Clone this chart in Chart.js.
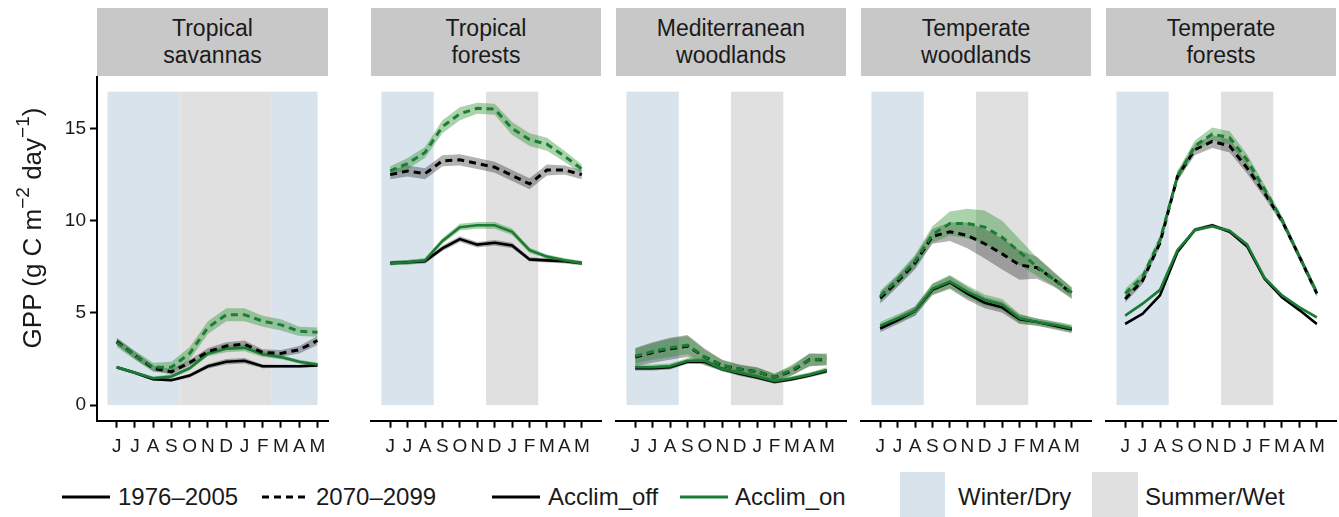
<!DOCTYPE html>
<html>
<head>
<meta charset="utf-8">
<script src="https://cdn.jsdelivr.net/npm/chart.js@4.4.1/dist/chart.umd.min.js"></script>
<style>
  body { margin: 0; background: #fff; width: 1339px; height: 517px; overflow: hidden; position: relative;
         font-family: "Liberation Sans", Arial, sans-serif; color: #1a1a1a; }
  .strip { position: absolute; top: 8px; height: 68px; background: #c8c8c8; display: flex; align-items: center;
           justify-content: center; text-align: center; font-size: 23px; line-height: 27px; }
  .box { position: absolute; top: 76px; height: 384px; }
  .leg { position: absolute; top: 480px; height: 34px; font-size: 24px; line-height: 34px; white-space: nowrap; }
  .key { position: absolute; }
  #ytitle { position: absolute; left: -118px; top: 213px; width: 300px; height: 30px; line-height: 30px;
            text-align: center; font-size: 26px; white-space: nowrap; transform: rotate(-90deg); }
  #ytitle sup { font-size: 19px; line-height: 0; position: relative; top: -2px; }
</style>
</head>
<body>
<div id="strips"></div>
<div id="boxes"></div>
<div id="ytitle">GPP (g C m<sup>−2</sup> day<sup>−1</sup>)</div>

<div class="key" style="left:62px;top:486px"><svg width="48" height="22"><line x1="0" y1="11" x2="48" y2="11" stroke="#000" stroke-width="3"/></svg></div>
<div class="leg" style="left:118px">1976–2005</div>
<div class="key" style="left:262px;top:486px"><svg width="48" height="22"><line x1="0" y1="11" x2="48" y2="11" stroke="#000" stroke-width="3" stroke-dasharray="7 5"/></svg></div>
<div class="leg" style="left:316px">2070–2099</div>
<div class="key" style="left:492px;top:486px"><svg width="48" height="22"><line x1="0" y1="11" x2="48" y2="11" stroke="#000" stroke-width="3"/></svg></div>
<div class="leg" style="left:548px">Acclim_off</div>
<div class="key" style="left:680px;top:486px"><svg width="48" height="22"><line x1="0" y1="11" x2="48" y2="11" stroke="#1b7c36" stroke-width="3"/></svg></div>
<div class="leg" style="left:735px">Acclim_on</div>
<div class="key" style="left:900px;top:472px;width:45px;height:45px;background:#d9e3ec"></div>
<div class="leg" style="left:958px">Winter/Dry</div>
<div class="key" style="left:1092px;top:472px;width:46px;height:45px;background:#e0e0e0"></div>
<div class="leg" style="left:1145px">Summer/Wet</div>

<script>
const months = ["J", "J", "A", "S", "O", "N", "D", "J", "F", "M", "A", "M"];
const panelNames = [["Tropical", "savannas"], ["Tropical", "forests"], ["Mediterranean", "woodlands"],
                    ["Temperate", "woodlands"], ["Temperate", "forests"]];
const yTicks = [0, 5, 10, 15];

// season bands, in month index units
const savWinter = [[-0.5, 3.5], [8.5, 11]];
const savSummer = [[3.5, 8.5]];
const otherWinter = [[-0.5, 2.5]];
const otherSummer = [[5.5, 8.5]];

// Tropical savannas
const savOffPast = [2.05, 1.75, 1.4, 1.35, 1.6, 2.1, 2.35, 2.4, 2.1, 2.1, 2.1, 2.15];
const savOnPast  = [2.05, 1.75, 1.45, 1.55, 2.0, 2.8, 3.05, 3.1, 2.75, 2.6, 2.35, 2.2];
const savOffFut  = [3.45, 2.7, 2.0, 1.8, 2.3, 2.9, 3.2, 3.3, 2.85, 2.8, 3.0, 3.5];
const savOnFut   = [3.4, 2.7, 2.05, 2.05, 2.8, 4.2, 4.9, 4.9, 4.55, 4.35, 4.0, 3.95];
const savOffPastSd = [0.08, 0.08, 0.08, 0.08, 0.1, 0.12, 0.15, 0.15, 0.1, 0.08, 0.08, 0.08];
const savOnPastSd  = [0.1, 0.1, 0.1, 0.1, 0.12, 0.15, 0.18, 0.18, 0.15, 0.12, 0.1, 0.1];
const savOffFutSd  = [0.2, 0.2, 0.15, 0.15, 0.15, 0.2, 0.2, 0.2, 0.18, 0.18, 0.2, 0.25];
const savOnFutSd   = [0.25, 0.25, 0.25, 0.3, 0.35, 0.35, 0.35, 0.35, 0.3, 0.3, 0.25, 0.25];

// Tropical forests
const tfOffPast = [7.7, 7.75, 7.8, 8.5, 9.0, 8.7, 8.8, 8.65, 7.9, 7.85, 7.8, 7.7];
const tfOnPast  = [7.7, 7.75, 7.85, 8.9, 9.65, 9.75, 9.75, 9.4, 8.4, 8.05, 7.85, 7.7];
const tfOffFut  = [12.5, 12.7, 12.55, 13.25, 13.3, 13.1, 12.9, 12.45, 12.0, 12.75, 12.75, 12.5];
const tfOnFut   = [12.7, 13.1, 13.7, 15.1, 15.8, 16.1, 16.05, 15.0, 14.4, 14.15, 13.5, 12.8];
const tfOffPastSd = [0.12, 0.12, 0.12, 0.15, 0.15, 0.15, 0.15, 0.15, 0.12, 0.12, 0.12, 0.12];
const tfOnPastSd  = [0.12, 0.12, 0.12, 0.15, 0.18, 0.18, 0.18, 0.18, 0.15, 0.12, 0.12, 0.12];
const tfOffFutSd  = [0.25, 0.3, 0.3, 0.3, 0.3, 0.3, 0.3, 0.3, 0.3, 0.3, 0.25, 0.25];
const tfOnFutSd   = [0.25, 0.3, 0.3, 0.35, 0.35, 0.3, 0.3, 0.35, 0.35, 0.35, 0.3, 0.25];

// Mediterranean woodlands
const medOffPast = [2.0, 2.0, 2.05, 2.35, 2.35, 1.95, 1.7, 1.5, 1.25, 1.4, 1.6, 1.85];
const medOnPast  = [2.05, 2.05, 2.1, 2.4, 2.4, 1.95, 1.75, 1.55, 1.3, 1.45, 1.65, 1.9];
const medOffFut  = [2.6, 2.85, 3.05, 3.2, 2.6, 2.15, 1.95, 1.8, 1.5, 1.85, 2.45, 2.45];
const medOnFut   = [2.65, 2.9, 3.1, 3.25, 2.6, 2.15, 1.95, 1.8, 1.5, 1.9, 2.45, 2.5];
const medOffPastSd = [0.12, 0.12, 0.12, 0.12, 0.12, 0.12, 0.12, 0.12, 0.1, 0.1, 0.1, 0.12];
const medOnPastSd  = [0.15, 0.15, 0.15, 0.15, 0.15, 0.12, 0.12, 0.12, 0.12, 0.12, 0.12, 0.15];
const medOffFutSd  = [0.5, 0.55, 0.6, 0.6, 0.45, 0.3, 0.25, 0.25, 0.2, 0.25, 0.35, 0.3];
const medOnFutSd   = [0.4, 0.45, 0.5, 0.5, 0.4, 0.28, 0.22, 0.22, 0.2, 0.28, 0.35, 0.3];

// Temperate woodlands
const twOffPast = [4.15, 4.6, 5.1, 6.25, 6.65, 6.05, 5.55, 5.3, 4.65, 4.5, 4.3, 4.1];
const twOnPast  = [4.3, 4.7, 5.1, 6.3, 6.7, 6.15, 5.7, 5.45, 4.7, 4.5, 4.35, 4.15];
const twOffFut  = [5.8, 6.7, 7.7, 9.15, 9.4, 9.2, 8.75, 8.2, 7.6, 7.45, 6.8, 6.05];
const twOnFut   = [5.9, 6.8, 7.8, 9.25, 9.85, 9.85, 9.65, 9.1, 8.3, 7.5, 6.8, 6.1];
const twOffPastSd = [0.2, 0.22, 0.25, 0.3, 0.35, 0.35, 0.3, 0.3, 0.25, 0.2, 0.2, 0.2];
const twOnPastSd  = [0.2, 0.22, 0.25, 0.3, 0.35, 0.35, 0.3, 0.3, 0.25, 0.2, 0.2, 0.2];
const twOffFutSd  = [0.3, 0.3, 0.35, 0.4, 0.5, 0.7, 0.8, 0.85, 0.8, 0.6, 0.4, 0.3];
const twOnFutSd   = [0.3, 0.3, 0.35, 0.45, 0.65, 0.8, 0.9, 0.9, 0.7, 0.5, 0.35, 0.3];

// Temperate forests
const tmfOffPast = [4.4, 4.95, 5.95, 8.3, 9.5, 9.75, 9.4, 8.6, 6.85, 5.85, 5.15, 4.4];
const tmfOnPast  = [4.85, 5.5, 6.25, 8.4, 9.5, 9.7, 9.45, 8.7, 6.9, 5.95, 5.3, 4.75];
const tmfOffFut  = [5.75, 6.75, 8.8, 12.4, 13.85, 14.3, 14.05, 12.85, 11.5, 10.0, 8.05, 6.05];
const tmfOnFut   = [6.05, 6.95, 8.95, 12.4, 14.05, 14.7, 14.5, 13.3, 11.7, 10.05, 8.05, 6.1];
const tmfOffPastSd = [0.08, 0.08, 0.1, 0.1, 0.1, 0.1, 0.1, 0.1, 0.1, 0.08, 0.08, 0.08];
const tmfOnPastSd  = [0.08, 0.08, 0.1, 0.1, 0.1, 0.1, 0.1, 0.1, 0.1, 0.08, 0.08, 0.08];
const tmfOffFutSd  = [0.2, 0.2, 0.2, 0.25, 0.3, 0.35, 0.35, 0.3, 0.25, 0.2, 0.2, 0.2];
const tmfOnFutSd   = [0.25, 0.25, 0.25, 0.3, 0.3, 0.35, 0.35, 0.3, 0.25, 0.2, 0.2, 0.2];

const GREEN = "#1b7c36";
const GREEN_RIB = "rgba(34,139,34,0.38)";
const GRAY_RIB = "rgba(0,0,0,0.3)";
const WINTER = "#d9e3ec";
const SUMMER = "#e0e0e0";
const TEXT = "#1a1a1a";
const FONT = "'Liberation Sans', Arial, sans-serif";

const panels = [
  { left: 97,   width: 231, xmin: -1.075, xmax: 11.575, winter: savWinter, summer: savSummer,
    series: [savOffPast, savOnPast, savOffFut, savOnFut], sd: [savOffPastSd, savOnPastSd, savOffFutSd, savOnFutSd] },
  { left: 371,  width: 230, xmin: -1.1, xmax: 12.1, winter: otherWinter, summer: otherSummer,
    series: [tfOffPast, tfOnPast, tfOffFut, tfOnFut], sd: [tfOffPastSd, tfOnPastSd, tfOffFutSd, tfOnFutSd] },
  { left: 616,  width: 230, xmin: -1.1, xmax: 12.1, winter: otherWinter, summer: otherSummer,
    series: [medOffPast, medOnPast, medOffFut, medOnFut], sd: [medOffPastSd, medOnPastSd, medOffFutSd, medOnFutSd] },
  { left: 861,  width: 230, xmin: -1.1, xmax: 12.1, winter: otherWinter, summer: otherSummer,
    series: [twOffPast, twOnPast, twOffFut, twOnFut], sd: [twOffPastSd, twOnPastSd, twOffFutSd, twOnFutSd] },
  { left: 1106, width: 230, xmin: -1.1, xmax: 12.1, winter: otherWinter, summer: otherSummer,
    series: [tmfOffPast, tmfOnPast, tmfOffFut, tmfOnFut], sd: [tmfOffPastSd, tmfOnPastSd, tmfOffFutSd, tmfOnFutSd] }
];

const shadePlugin = {
  id: "shade",
  beforeDraw(chart, args, opts) {
    const { ctx, scales: { x, y } } = chart;
    const top = y.getPixelForValue(17), bottom = y.getPixelForValue(0);
    ctx.save();
    [[opts.winter, WINTER], [opts.summer, SUMMER]].forEach(([bands, col]) => {
      ctx.fillStyle = col;
      bands.forEach(b => {
        const x0 = x.getPixelForValue(b[0]), x1 = x.getPixelForValue(b[1]);
        ctx.fillRect(x0, top, x1 - x0, bottom - top);
      });
    });
    ctx.restore();
  }
};

function pts(arr, sd, sign = 0) {
  return arr.map((v, i) => ({ x: i, y: sd ? v + sign * sd[i] : v }));
}
function line(arr, color, dashed) {
  return { data: pts(arr), borderColor: color, borderWidth: dashed ? 3 : 2.6, borderDash: dashed ? [7, 5] : [],
           pointRadius: 0, fill: false, tension: 0 };
}
function ribbon(arr, sd, color) {
  return [
    { data: pts(arr, sd, 1), borderWidth: 0, borderColor: "transparent", pointRadius: 0, fill: "+1", backgroundColor: color },
    { data: pts(arr, sd, -1), borderWidth: 0, borderColor: "transparent", pointRadius: 0, fill: false }
  ];
}
function noPad(s) {
  s.paddingTop = 0; s.paddingBottom = 0; s.paddingLeft = 0; s.paddingRight = 0;
}

panels.forEach((p, k) => {
  const strip = document.createElement("div");
  strip.className = "strip";
  strip.style.left = p.left + "px";
  strip.style.width = p.width + "px";
  strip.innerHTML = panelNames[k].join("<br>");
  document.getElementById("strips").appendChild(strip);

  const first = k === 0;
  const boxLeft = first ? 0 : p.left - 2;
  const boxWidth = first ? p.left + p.width + 2 : p.width + 4;
  const box = document.createElement("div");
  box.className = "box";
  box.style.left = boxLeft + "px";
  box.style.width = boxWidth + "px";
  const cv = document.createElement("canvas");
  cv.width = boxWidth; cv.height = 384;
  box.appendChild(cv);
  document.getElementById("boxes").appendChild(box);

  const [offPast, onPast, offFut, onFut] = p.series;
  const [offPastSd, onPastSd, offFutSd, onFutSd] = p.sd;
  const datasets = [
    line(onFut, GREEN, true), line(offFut, "#000", true),
    line(onPast, GREEN, false), line(offPast, "#000", false),
    ...ribbon(onFut, onFutSd, GREEN_RIB), ...ribbon(onPast, onPastSd, GREEN_RIB),
    ...ribbon(offFut, offFutSd, GRAY_RIB), ...ribbon(offPast, offPastSd, GRAY_RIB)
  ];

  new Chart(cv, {
    type: "line",
    data: { datasets },
    plugins: [shadePlugin],
    options: {
      responsive: false, animation: false, devicePixelRatio: 1,
      layout: { padding: { left: first ? 0 : 2, right: 2, top: 0, bottom: 0 } },
      plugins: {
        legend: { display: false }, tooltip: { enabled: false },
        filler: { drawTime: "beforeDatasetsDraw" },
        shade: { winter: p.winter, summer: p.summer }
      },
      scales: {
        x: {
          type: "linear", min: p.xmin, max: p.xmax,
          afterBuildTicks: s => { s.ticks = months.map((m, i) => ({ value: i })); },
          afterFit: s => { s.height = 39.3; noPad(s); },
          ticks: { autoSkip: false, maxRotation: 0, padding: 8, color: TEXT,
                   font: { family: FONT, size: 19 }, callback: v => months[v] },
          grid: { drawOnChartArea: false, drawTicks: true, tickLength: 7, tickWidth: 2, tickColor: "#000" },
          border: { display: true, color: "#000", width: 2 }
        },
        y: {
          display: first, min: -0.85, max: 17.85,
          afterBuildTicks: s => { s.ticks = yTicks.map(v => ({ value: v })); },
          afterFit: s => { if (first) s.width = 97; noPad(s); },
          ticks: { padding: 4, color: TEXT, font: { family: FONT, size: 19 } },
          grid: { drawOnChartArea: false, drawTicks: true, tickLength: 7, tickWidth: 2, tickColor: "#000" },
          border: { display: true, color: "#000", width: 2 }
        }
      }
    }
  });
});
</script>
</body>
</html>
